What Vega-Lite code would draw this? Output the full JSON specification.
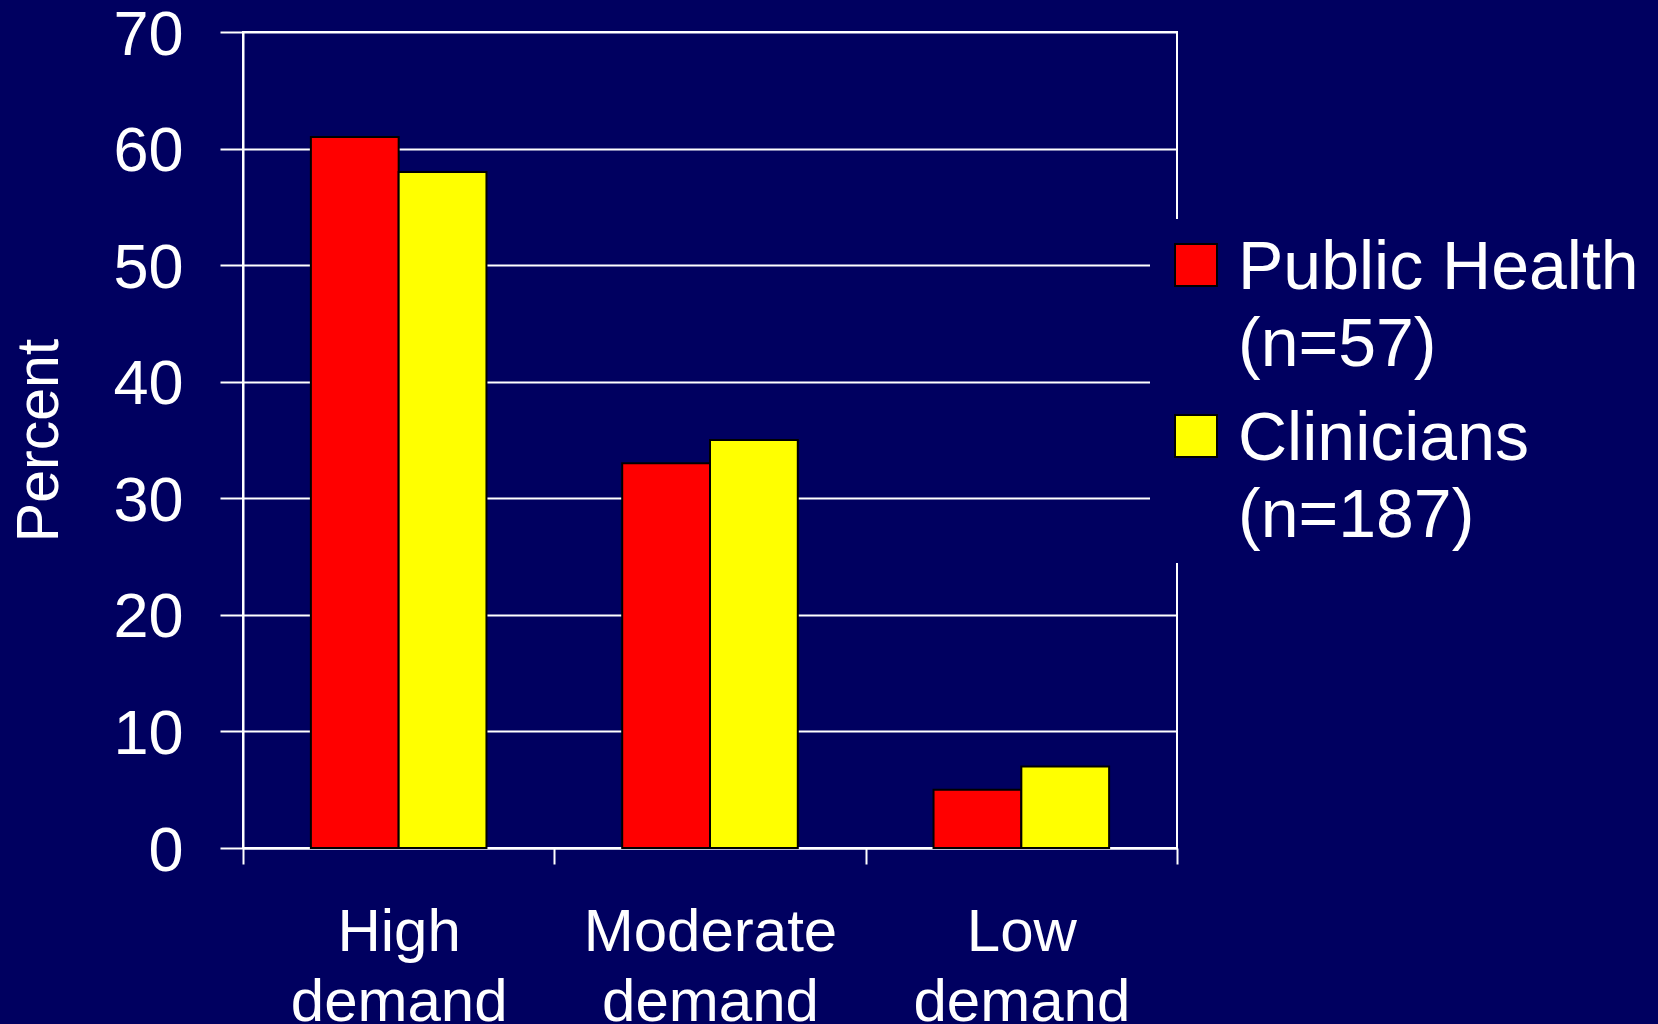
{
  "$schema": "https://vega.github.io/schema/vega-lite/v6.json",
  "width": 934,
  "height": 816,
  "autosize": "none",
  "padding": {"left": 243, "top": 32, "right": 481, "bottom": 176},
  "background": "#000060",
  "config": {
    "view": {"stroke": "white", "strokeWidth": 2},
    "font": "Liberation Sans"
  },
  "data": {
    "values": [
      {"demand": "High demand", "group": "Public Health (n=57)", "percent": 61},
      {"demand": "High demand", "group": "Clinicians (n=187)", "percent": 58},
      {"demand": "Moderate demand", "group": "Public Health (n=57)", "percent": 33},
      {"demand": "Moderate demand", "group": "Clinicians (n=187)", "percent": 35},
      {"demand": "Low demand", "group": "Public Health (n=57)", "percent": 5},
      {"demand": "Low demand", "group": "Clinicians (n=187)", "percent": 7}
    ]
  },
  "mark": {"type": "bar", "stroke": "black", "strokeWidth": 2},
  "encoding": {
    "x": {
      "field": "demand",
      "type": "nominal",
      "sort": ["High demand", "Moderate demand", "Low demand"],
      "scale": {"paddingInner": 0, "paddingOuter": 0},
      "axis": {
        "title": null,
        "labelAngle": 0,
        "labelExpr": "split(datum.label, ' ')",
        "labelFontSize": 60,
        "labelColor": "white",
        "labelBaseline": "top",
        "labelLineHeight": 70,
        "labelPadding": 39,
        "labelLimit": 1000,
        "tickBand": "extent",
        "tickSize": 16,
        "tickColor": "white",
        "tickWidth": 2,
        "domainColor": "white",
        "domainWidth": 2,
        "grid": false
      }
    },
    "xOffset": {
      "field": "group",
      "type": "nominal",
      "sort": ["Public Health (n=57)", "Clinicians (n=187)"],
      "scale": {"paddingInner": 0, "paddingOuter": 0.773}
    },
    "y": {
      "field": "percent",
      "type": "quantitative",
      "scale": {"domain": [0, 70], "nice": false},
      "axis": {
        "values": [0, 10, 20, 30, 40, 50, 60, 70],
        "title": "Percent",
        "titleColor": "white",
        "titleFontSize": 59,
        "titleFontWeight": "normal",
        "titlePadding": 43,
        "labelFontSize": 63,
        "labelColor": "white",
        "labelPadding": 37,
        "labelOffset": 3,
        "tickSize": 23,
        "tickColor": "white",
        "tickWidth": 2,
        "domainColor": "white",
        "domainWidth": 2,
        "grid": true,
        "gridColor": "white",
        "gridWidth": 2,
        "gridOpacity": 1
      }
    },
    "color": {
      "field": "group",
      "type": "nominal",
      "scale": {
        "domain": ["Public Health (n=57)", "Clinicians (n=187)"],
        "range": ["#FF0000", "#FFFF00"]
      },
      "legend": {
        "title": null,
        "orient": "none",
        "legendX": 907,
        "legendY": 187,
        "padding": 12,
        "fillColor": "#000060",
        "symbolType": "square",
        "symbolSize": 1764,
        "symbolStrokeColor": "black",
        "symbolStrokeWidth": 2,
        "symbolOpacity": 1,
        "labelFontSize": 68,
        "labelColor": "white",
        "labelOffset": 8,
        "labelBaseline": "alphabetic",
        "labelLimit": 600,
        "rowPadding": 22,
        "labelExpr": "split(replace(datum.label, ' (', '|('), '|')",
        "encoding": {
          "labels": {"lineHeight": {"value": 77}, "dy": {"value": 24}}
        }
      }
    }
  }
}
